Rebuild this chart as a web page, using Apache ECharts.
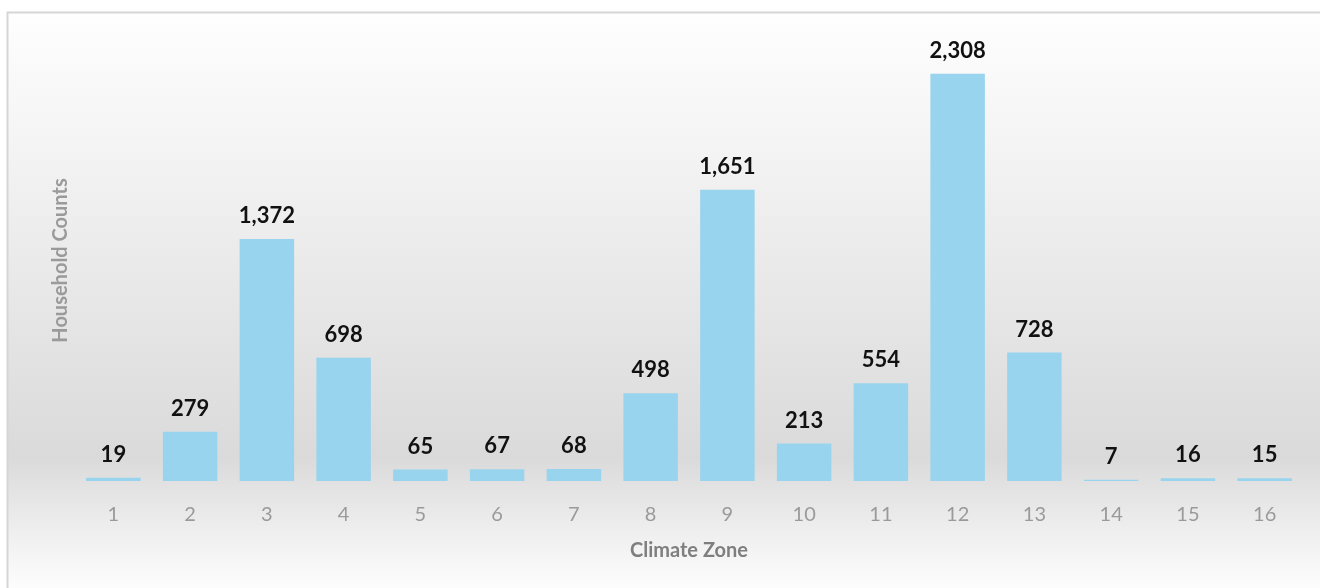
<!DOCTYPE html>
<html><head><meta charset="utf-8">
<script src="https://cdn.jsdelivr.net/npm/echarts@6/dist/echarts.min.js"></script>
<style>html,body{margin:0;padding:0;background:#fff}#c{width:1320px;height:588px}</style>
</head><body><div id="c"></div>
<script>
const categories = ['1','2','3','4','5','6','7','8','9','10','11','12','13','14','15','16'];
const householdCounts = [19, 279, 1372, 698, 65, 67, 68, 498, 1651, 213, 554, 2308, 728, 7, 16, 15];
const xAxisName = 'Climate Zone';
const yAxisName = 'Household Counts';

const chart = echarts.init(document.getElementById('c'), null, {renderer:'canvas'});
chart.setOption({
  animation:false,
  backgroundColor:'#ffffff',
  graphic:[{
    type:'rect', z:-10, silent:true,
    shape:{x:7.5,y:12.5,width:1330,height:600},
    style:{
      stroke:'#d6d6d6', lineWidth:2,
      fill:new echarts.graphic.LinearGradient(0,0,0,1,[
        {offset:0,color:'#fefefe'},
        {offset:0.2,color:'#f5f5f5'},
        {offset:0.5,color:'#e6e6e6'},
        {offset:0.74,color:'#dadada'},
        {offset:0.86,color:'#eeeeee'},
        {offset:0.96,color:'#fdfdfd'},
        {offset:1,color:'#ffffff'}
      ])
    }
  }],
  grid:{left:75,right:17,top:40,bottom:107,containLabel:false},
  xAxis:{
    type:'category', data:categories,
    name:xAxisName, nameLocation:'middle', nameGap:60,
    nameTextStyle:{color:'#7f7f7f',fontSize:20,fontWeight:'bold',fontFamily:'Lato'},
    axisLine:{show:false}, axisTick:{show:false},
    axisLabel:{color:'#9a9a9a',fontSize:20,margin:24,fontFamily:'Lato'}
  },
  yAxis:{
    type:'value', min:0, max:2500,
    name:yAxisName, nameLocation:'middle', nameGap:4, nameRotate:90,
    nameTextStyle:{color:'#9a9a9a',fontSize:20,fontWeight:'bold',fontFamily:'Lato'},
    axisLine:{show:false}, axisTick:{show:false}, axisLabel:{show:false}, splitLine:{show:false}
  },
  series:[{
    type:'bar', data:householdCounts, barCategoryGap:'29%',
    itemStyle:{color:'#98d4ee'},
    label:{show:true, position:'top', distance:12, color:'#111', fontSize:22, fontWeight:'bold', fontFamily:'Lato',
      formatter:p=>p.value.toLocaleString('en-US')}
  }]
});
</script></body></html>
